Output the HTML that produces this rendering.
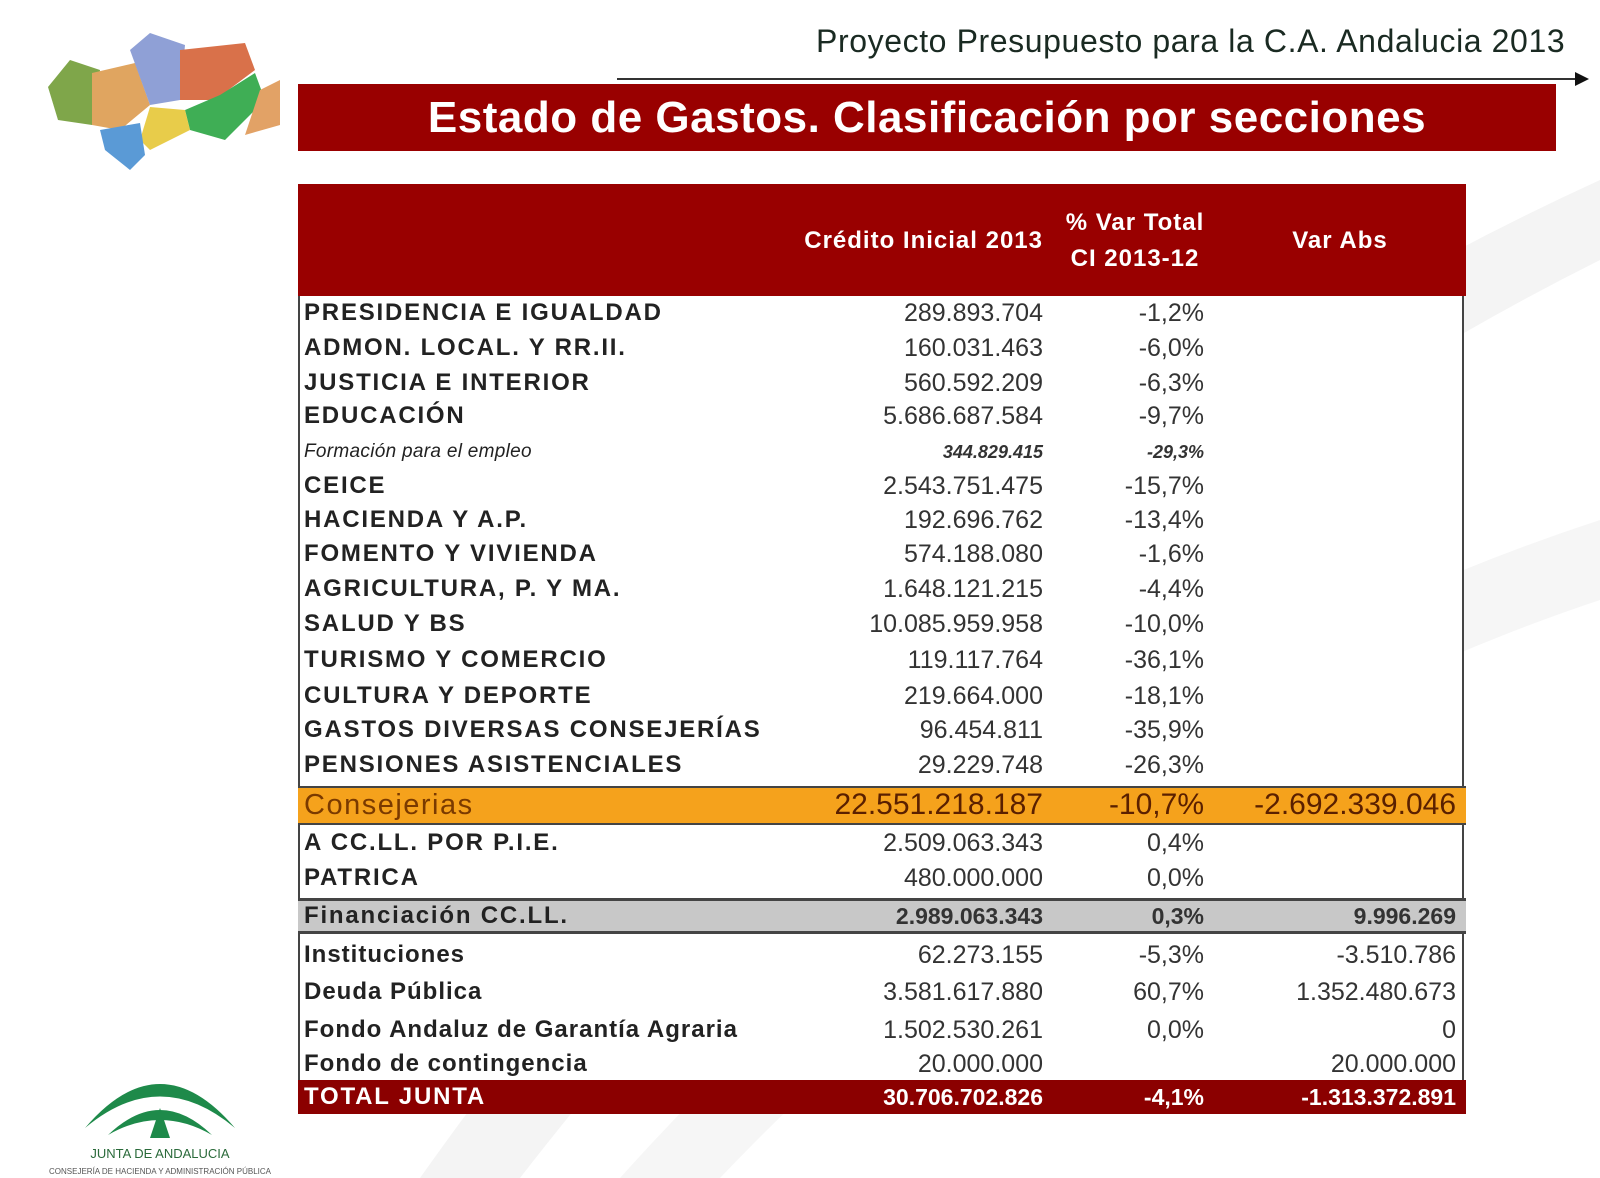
<!DOCTYPE html>
<html><head><meta charset="utf-8">
<style>
body{margin:0;width:1600px;height:1178px;background:#fff;position:relative;overflow:hidden;font-family:"Liberation Sans",Arial,sans-serif}
.a{position:absolute}
.t{position:absolute;line-height:30px;height:30px;white-space:nowrap;color:#222}
.lab{left:304px;font-weight:bold;font-size:24px;letter-spacing:1.8px}
.num{font-size:25px;text-align:right;width:260px;color:#333}
</style></head><body>
<svg class="a" style="left:0;top:0" width="1600" height="1178">
<path d="M420 1178 Q900 500 1600 180 L1600 260 Q1000 560 520 1178Z" fill="#f4f4f4"/>
<path d="M620 1178 Q1050 700 1600 520 L1600 600 Q1120 760 720 1178Z" fill="#f6f6f6"/>
</svg>
<svg class="a" style="left:40px;top:25px" width="260" height="150">
<path d="M8 62 L30 35 L60 45 L52 100 L18 95Z" fill="#7fa64a"/>
<path d="M52 48 L95 38 L110 80 L80 105 L52 100Z" fill="#e0a560"/>
<path d="M90 25 L110 8 L145 20 L140 75 L110 80Z" fill="#8fa0d6"/>
<path d="M140 25 L205 18 L215 45 L175 75 L140 75Z" fill="#d9714a"/>
<path d="M145 85 L180 70 L215 48 L225 75 L185 115 L150 105Z" fill="#3fae55"/>
<path d="M220 65 L240 55 L240 100 L205 110Z" fill="#e2a266"/>
<path d="M110 82 L145 85 L150 105 L110 125 L100 115Z" fill="#e8cc4a"/>
<path d="M60 105 L100 98 L105 130 L90 145 L65 125Z" fill="#5a9ad6"/>
</svg>
<div class="t" style="left:816px;top:26px;font-size:32px;letter-spacing:0.6px;color:#1a2a22">Proyecto Presupuesto para la C.A. Andalucia 2013</div>
<div class="a" style="left:617px;top:78px;width:960px;height:2px;background:#333"></div>
<div class="a" style="left:1575px;top:72px;width:0;height:0;border-left:14px solid #111;border-top:7px solid transparent;border-bottom:7px solid transparent"></div>
<div class="a" style="left:298px;top:84px;width:1258px;height:67px;background:#990000;color:#fff;font-weight:bold;font-size:44px;letter-spacing:0.5px;line-height:67px;text-align:center">Estado de Gastos. Clasificación por secciones</div>

<div class="a" style="left:298px;top:184px;width:1166px;height:928px;border:2px solid #444;box-sizing:border-box;background:#fff"></div>
<div class="a" style="left:298px;top:184px;width:1168px;height:112px;background:#990000"></div>
<div class="t" style="left:760px;top:226px;width:283px;text-align:right;color:#fff;font-weight:bold;font-size:24px;letter-spacing:1px">Crédito Inicial 2013</div>
<div class="a" style="left:1050px;top:205px;width:170px;text-align:center;color:#fff;font-weight:bold;font-size:24px;letter-spacing:1px;line-height:36px">% Var Total<br>CI 2013-12</div>
<div class="t" style="left:1260px;top:226px;width:160px;text-align:center;color:#fff;font-weight:bold;font-size:24px;letter-spacing:1px">Var Abs</div>

<div class="a" style="left:298px;top:786px;width:1168px;height:39px;background:#f5a21c;border-top:2px solid #444;border-bottom:2px solid #444;box-sizing:border-box"></div>
<div class="a" style="left:298px;top:898px;width:1168px;height:36px;background:#c8c8c8;border-top:3px solid #444;border-bottom:3px solid #444;box-sizing:border-box"></div>
<div class="a" style="left:298px;top:1080px;width:1168px;height:34px;background:#8b0000"></div>
<div id="rows"></div>
<svg class="a" style="left:20px;top:1050px" width="290" height="128">
<path d="M65 78 Q140 -10 215 78 Q140 15 65 78Z" fill="#1e8a4a"/>
<path d="M88 85 Q140 35 192 85 Q140 55 88 85Z" fill="#1e8a4a"/>
<path d="M140 58 L150 88 L130 88Z" fill="#1e8a4a"/>
<text x="140" y="108" text-anchor="middle" font-size="13" fill="#2a6a3a" font-family="Liberation Sans">JUNTA DE ANDALUCIA</text>
<text x="140" y="124" text-anchor="middle" font-size="8" fill="#555" font-family="Liberation Sans">CONSEJERÍA DE HACIENDA Y ADMINISTRACIÓN PÚBLICA</text>
</svg>
<script>
const labels=["PRESIDENCIA E IGUALDAD","ADMON. LOCAL. Y RR.II.","JUSTICIA E INTERIOR","EDUCACIÓN","Formación para el empleo","CEICE","HACIENDA Y A.P.","FOMENTO Y VIVIENDA","AGRICULTURA, P. Y MA.","SALUD Y BS","TURISMO Y COMERCIO","CULTURA Y DEPORTE","GASTOS DIVERSAS CONSEJERÍAS","PENSIONES ASISTENCIALES","Consejerias","A CC.LL. POR P.I.E.","PATRICA","Financiación CC.LL.","Instituciones","Deuda Pública","Fondo Andaluz de Garantía Agraria","Fondo de contingencia","TOTAL JUNTA"];
const credito=["289.893.704","160.031.463","560.592.209","5.686.687.584","344.829.415","2.543.751.475","192.696.762","574.188.080","1.648.121.215","10.085.959.958","119.117.764","219.664.000","96.454.811","29.229.748","22.551.218.187","2.509.063.343","480.000.000","2.989.063.343","62.273.155","3.581.617.880","1.502.530.261","20.000.000","30.706.702.826"];
const varPct=["-1,2%","-6,0%","-6,3%","-9,7%","-29,3%","-15,7%","-13,4%","-1,6%","-4,4%","-10,0%","-36,1%","-18,1%","-35,9%","-26,3%","-10,7%","0,4%","0,0%","0,3%","-5,3%","60,7%","0,0%","","-4,1%"];
const varAbs=["","","","","","","","","","","","","","","-2.692.339.046","","","9.996.269","-3.510.786","1.352.480.673","0","20.000.000","-1.313.372.891"];
const centers=[313,348,383,416,452,486,520,554,589,624,660,696,730,765,805,843,878,916,955,992,1030,1064,1097];
const root=document.getElementById('rows');
for(let i=0;i<labels.length;i++){
  const y=centers[i]-15;
  const special=i===14?'c':i===17?'f':i===22?'t':i===4?'s':'';
  const l=document.createElement('div');
  l.className='t lab';l.style.top=y+'px';l.textContent=labels[i];
  
  
  if(special==='s'){l.style.fontWeight='normal';l.style.fontStyle='italic';l.style.fontSize='19px';l.style.letterSpacing='0.3px';}
  if(special==='c'){l.style.fontWeight='normal';l.style.fontSize='29px';l.style.color='#7a3a00';l.style.letterSpacing='1.5px';}
  if(special==='t'){l.style.color='#fff';}
  if(i>=18&&i<=21){l.style.letterSpacing='1px';}
  root.appendChild(l);
  const vals=[credito[i],varPct[i],varAbs[i]];
  const rights=[1043,1204,1456];
  for(let k=0;k<3;k++){
    const n=document.createElement('div');
    n.className='t num';n.style.left=(rights[k]-260)+'px';n.style.top=y+'px';n.textContent=vals[k];
    
    
    if(special==='s'){n.style.fontStyle='italic';n.style.fontSize='18px';n.style.fontWeight='bold';}
    if(special==='c'){n.style.fontSize='30px';n.style.color='#5a2000';}
    if(special==='f'){n.style.fontWeight='bold';n.style.fontSize='23px';}
    if(special==='t'){n.style.fontWeight='bold';n.style.color='#fff';n.style.fontSize='23px';}
    root.appendChild(n);
  }
}
</script>
</body></html>
